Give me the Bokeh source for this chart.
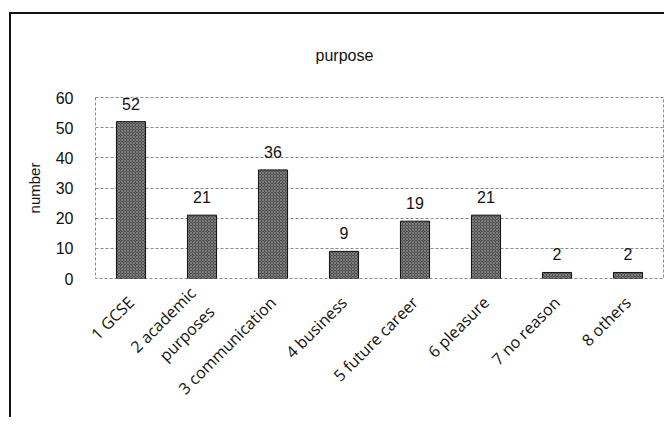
from math import pi
from bokeh.plotting import figure
from bokeh.models import ColumnDataSource, FactorRange, Range1d, FixedTicker
from bokeh.core.properties import value
from bokeh.embed import file_html
from bokeh.resources import INLINE

# ---- data ----
categories = ["1 GCSE", "2 academic\npurposes", "3 communication", "4 business",
              "5 future career", "6 pleasure", "7 no reason", "8 others"]
counts = [52, 21, 36, 9, 19, 21, 2, 2]
y_ticks = [0, 10, 20, 30, 40, 50, 60]
title_text = "purpose"
y_label = "number"

src = ColumnDataSource(dict(cat=categories, val=counts, lab=[str(v) for v in counts]))

p = figure(width=664, height=417, output_backend="svg", toolbar_location=None,
           x_range=FactorRange(*categories, range_padding=0),
           y_range=Range1d(0, 60),
           min_border_left=95, min_border_right=1, min_border_top=97, min_border_bottom=139)

p.border_fill_color = None
p.background_fill_color = "white"
# outer chart frame (left and top edges) drawn as CSS inset shadows
p.styles = {"box-shadow": "inset 9px 12px 0 0 white, inset 11px 14px 0 0 #111111",
            "background-color": "white"}

p.vbar(x="cat", top="val", width=0.41, source=src,
       fill_color="#4f4f4f", line_color="#111111", line_width=1,
       hatch_pattern="x", hatch_color="#9a9a9a", hatch_scale=3, hatch_weight=0.6)

p.text(x="cat", y="val", text="lab", source=src, text_align="center", text_baseline="middle",
       y_offset=-18, text_font=value("Liberation Sans"), text_font_size="16px", text_color="#111111")

# title
p.title.text = title_text
p.title.align = "left"
p.title.offset = 220
p.title.standoff = 68
p.title.text_font = "Liberation Sans"
p.title.text_font_size = "16px"
p.title.text_font_style = "normal"
p.title.text_color = "#111111"

# axes
p.yaxis.ticker = FixedTicker(ticks=y_ticks)
p.yaxis.axis_line_color = None
p.yaxis.major_tick_line_color = None
p.yaxis.minor_tick_line_color = None
p.yaxis.major_label_standoff = 16
p.yaxis.major_label_text_font = "Liberation Sans"
p.yaxis.major_label_text_font_size = "16px"
p.yaxis.major_label_text_color = "#111111"
p.yaxis.axis_label = y_label
p.yaxis.axis_label_text_font = "Liberation Sans"
p.yaxis.axis_label_text_font_size = "15px"
p.yaxis.axis_label_text_font_style = "normal"
p.yaxis.axis_label_text_color = "#111111"
p.yaxis.axis_label_standoff = 10

p.xaxis.axis_line_color = None
p.xaxis.major_tick_line_color = None
p.xaxis.major_label_orientation = pi / 4
p.xaxis.major_label_standoff = 15
p.xaxis.major_label_text_font = "Open Sans"
p.xaxis.major_label_text_font_size = "16px"
p.xaxis.major_label_text_color = "#111111"

p.xgrid.grid_line_color = None
p.ygrid.grid_line_color = "#8a8a8a"
p.ygrid.grid_line_dash = "3 2"
p.ygrid.grid_line_width = 1

p.outline_line_color = "#8a8a8a"
p.outline_line_dash = "3 2"
p.outline_line_width = 1

open("out.html", "w").write(file_html(p, INLINE))
